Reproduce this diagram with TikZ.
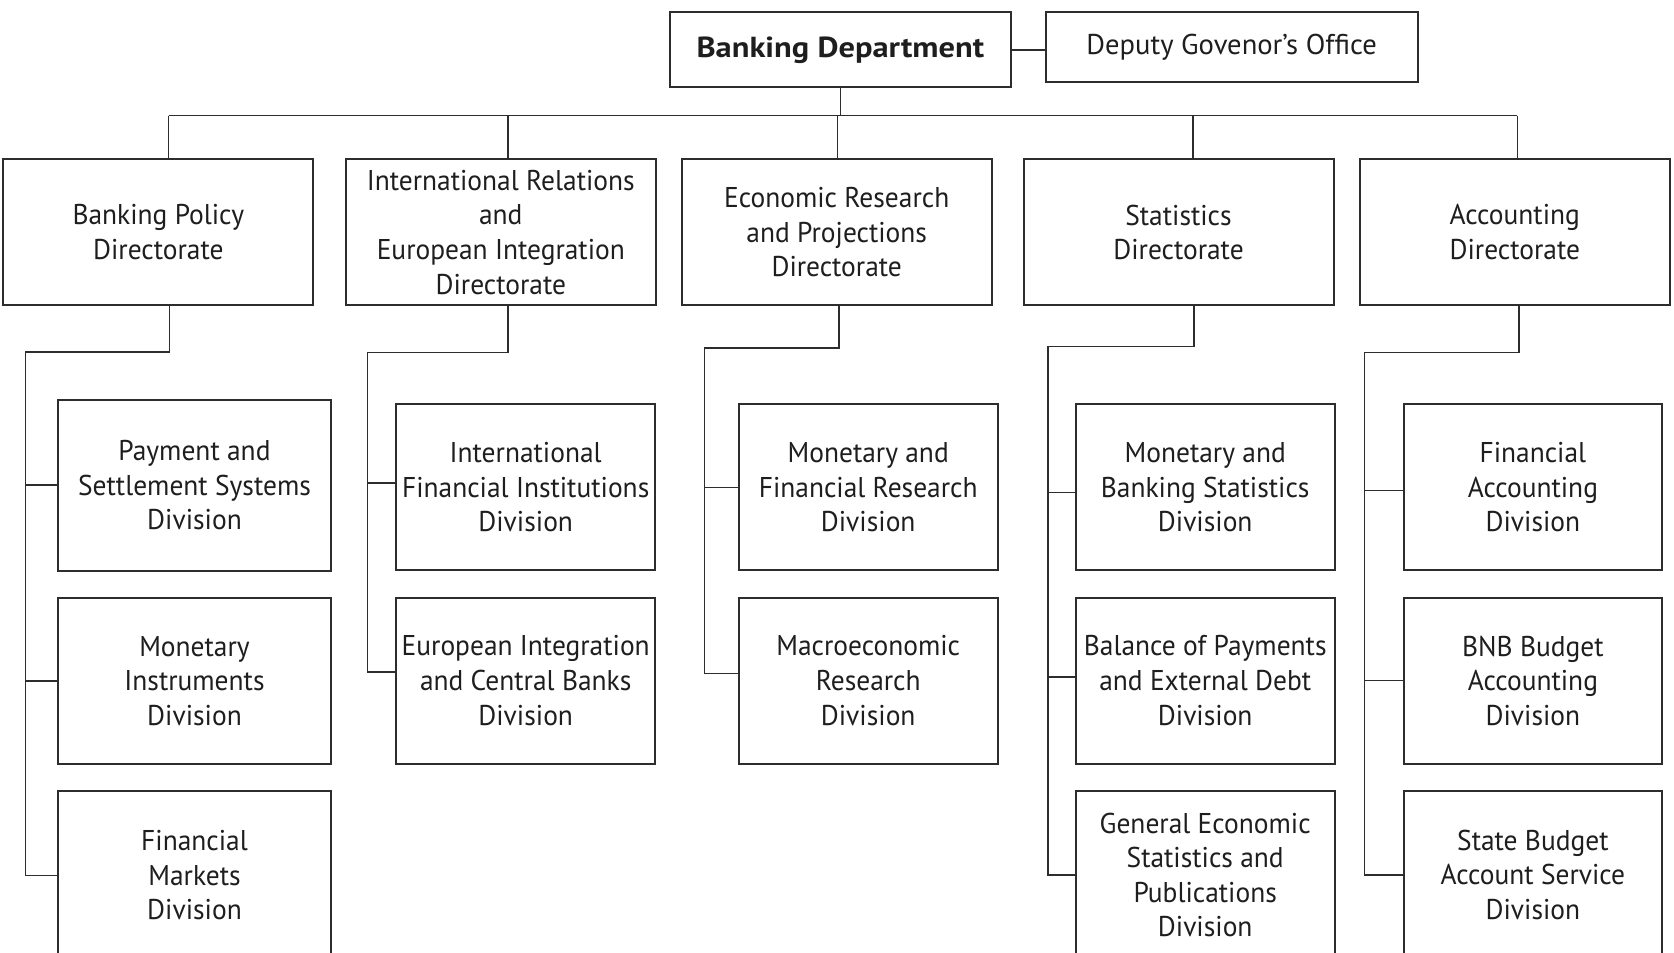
\documentclass[tikz,border=0pt]{standalone}
\usepackage{fontspec}
\setmainfont{PT Sans}
\newfontfamily\narrowfont[FakeStretch=0.96]{PT Sans}
\newfontfamily\widefont[FakeStretch=1.12]{PT Sans}
\usepackage{tikz}
\usetikzlibrary{positioning}
\definecolor{boxline}{RGB}{45,45,45}
\definecolor{textgray}{RGB}{30,30,30}
\tikzset{every node/.append style={align=center}}
\tikzset{
  head/.style={rectangle, draw=boxline, line width=1pt, minimum width=170.3pt,
    minimum height=37.5pt, inner sep=1pt, text=textgray, font=\widefont\fontsize{14.5}{17}\selectfont\bfseries},
  office/.style={rectangle, draw=boxline, line width=1pt, minimum width=186pt,
    minimum height=34.8pt, inner sep=1pt, text=textgray, font=\fontsize{14.3}{17.3}\selectfont},
  dir/.style={rectangle, draw=boxline, line width=1pt, minimum width=155pt,
    minimum height=73pt, inner sep=1pt, text=textgray, font=\narrowfont\fontsize{14.3}{17.3}\selectfont},
  div/.style={rectangle, draw=boxline, line width=1pt, minimum width=129.3pt,
    minimum height=83pt, inner sep=1pt, text=textgray, font=\narrowfont\fontsize{14.3}{17.3}\selectfont},
  link/.style={draw=boxline, line width=0.75pt}
}
\begin{document}
\begin{tikzpicture}[x=0.5pt, y=-0.5pt, node distance=12.65pt]
  \useasboundingbox (0,0) rectangle (1674,952);
  \clip (0,0) rectangle (1674,952);
  \node[head] (bd) at (840.3,49.8) {Banking Department};
  \node[office, right=16.5pt of bd, yshift=1.3pt] (dgo) {Deputy Govenor's Office};
  \node[dir] (d1) at (158.3,232.3) {Banking Policy\\Directorate};
  \node[dir] (d2) at (500.8,232.3) {International Relations\\and\\European Integration\\Directorate};
  \node[dir] (d3) at (836.7,232.3) {Economic Research\\and Projections\\Directorate};
  \node[dir] (d4) at (1178.5,232.3) {Statistics\\Directorate};
  \node[dir] (d5) at (1514.8,232.3) {Accounting\\Directorate};
  \node[div, minimum width=136.2pt, minimum height=85.5pt] (pss) at (194.5,485.2) {Payment and\\Settlement Systems\\Division};
  \node[div, minimum width=136.2pt, below=of pss] (mid) {Monetary\\Instruments\\Division};
  \node[div, minimum width=136.2pt, minimum height=84pt, below=of mid] (fmd) {Financial\\Markets\\Division};
  \node[div] (ifi) at (525.7,487.3) {International\\Financial Institutions\\Division};
  \node[div, below=of ifi] (eic) {European Integration\\and Central Banks\\Division};
  \node[div] (mfr) at (868.2,487.3) {Monetary and\\Financial Research\\Division};
  \node[div, below=of mfr] (mer) {Macroeconomic\\Research\\Division};
  \node[div] (mbs) at (1205.2,487.3) {Monetary and\\Banking Statistics\\Division};
  \node[div, below=of mbs] (bop) {Balance of Payments\\and External Debt\\Division};
  \node[div, minimum height=84pt, below=of bop] (ges) {General Economic\\Statistics and\\Publications\\Division};
  \node[div] (fad) at (1532.9,487.3) {Financial\\Accounting\\Division};
  \node[div, below=of fad] (bba) {BNB Budget\\Accounting\\Division};
  \node[div, minimum height=84pt, below=of bba] (sbs) {State Budget\\Account Service\\Division};
  \coordinate (s1) at (168.7,115.7);
  \coordinate (s2) at (508,115.7);
  \coordinate (s3) at (837.7,115.7);
  \coordinate (s4) at (1193,115.7);
  \coordinate (s5) at (1517.3,115.7);
  \coordinate (e1) at (169.7,352);
  \coordinate (w1) at (25.3,352);
  \coordinate (e2) at (508,352.7);
  \coordinate (w2) at (367.3,352.7);
  \coordinate (e3) at (839,348);
  \coordinate (w3) at (704.3,348);
  \coordinate (e4) at (1194,346.5);
  \coordinate (w4) at (1048,346.5);
  \coordinate (e5) at (1519,352.7);
  \coordinate (w5) at (1364.3,352.7);
  \coordinate (ifiB) at ([yshift=2.15pt]ifi.west);
  \coordinate (eicB) at ([yshift=4.35pt]eic.west);
  \coordinate (merB) at ([yshift=3.5pt]mer.west);
  \coordinate (mbsB) at ([yshift=-2.5pt]mbs.west);
  \coordinate (bopB) at ([yshift=1.75pt]bop.west);
  \coordinate (fadB) at ([yshift=-1.5pt]fad.west);
  \draw[link] (bd.east) -- (bd.east -| dgo.west);
  \draw[link] (bd.south) -- (bd.south |- s1);
  \draw[link] (s1) -- (s5);
  \foreach \i in {1,...,5}
    \draw[link] (s\i) -- (s\i |- d\i.north);
  \draw[link] (e1 |- d1.south) -- (e1) -- (w1) |- (fmd.west);
  \draw[link] (w1 |- pss.west) -- (pss.west);
  \draw[link] (w1 |- mid.west) -- (mid.west);
  \draw[link] (e2 |- d2.south) -- (e2) -- (w2) |- (eicB);
  \draw[link] (w2 |- ifiB) -- (ifiB);
  \draw[link] (e3 |- d3.south) -- (e3) -- (w3) |- (merB);
  \draw[link] (w3 |- mfr.west) -- (mfr.west);
  \draw[link] (e4 |- d4.south) -- (e4) -- (w4) |- (ges.west);
  \draw[link] (w4 |- mbsB) -- (mbsB);
  \draw[link] (w4 |- bopB) -- (bopB);
  \draw[link] (e5 |- d5.south) -- (e5) -- (w5) |- (sbs.west);
  \draw[link] (w5 |- fadB) -- (fadB);
  \draw[link] (w5 |- bba.west) -- (bba.west);
\end{tikzpicture}
\end{document}
